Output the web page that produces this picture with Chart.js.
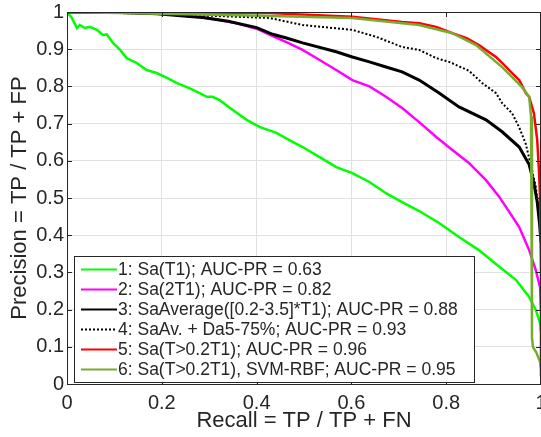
<!DOCTYPE html>
<html>
<head>
<meta charset="utf-8">
<script src="https://cdn.jsdelivr.net/npm/chart.js@4"></script>
<style>
  html, body { margin: 0; padding: 0; background: #fff; overflow: hidden; }
</style>
</head>
<body>
<canvas id="prChart" width="541" height="437"></canvas>
<script>
// values
const recall1 = [0, 0.01, 0.021, 0.027, 0.038, 0.048, 0.063, 0.076, 0.084, 0.097, 0.112, 0.126, 0.147, 0.168, 0.189, 0.211, 0.232, 0.253, 0.28, 0.295, 0.307, 0.322, 0.349, 0.379, 0.406, 0.442, 0.47, 0.497, 0.533, 0.568, 0.602, 0.638, 0.673, 0.707, 0.743, 0.785, 0.827, 0.869, 0.912, 0.947, 0.975, 0.989, 0.998, 1.0];
const precision1 = [1, 0.985, 0.957, 0.965, 0.957, 0.96, 0.952, 0.938, 0.94, 0.917, 0.898, 0.876, 0.863, 0.844, 0.836, 0.823, 0.809, 0.798, 0.782, 0.772, 0.772, 0.763, 0.737, 0.71, 0.691, 0.675, 0.655, 0.637, 0.61, 0.583, 0.567, 0.543, 0.513, 0.489, 0.465, 0.433, 0.395, 0.36, 0.315, 0.28, 0.234, 0.199, 0.164, 0.14];

const recall2 = [0, 0.1, 0.2, 0.25, 0.3, 0.35, 0.4, 0.434, 0.463, 0.497, 0.533, 0.568, 0.602, 0.638, 0.673, 0.707, 0.743, 0.779, 0.813, 0.848, 0.863, 0.884, 0.912, 0.926, 0.954, 0.975, 0.989, 0.998, 1.0];
const precision2 = [1, 0.999, 0.995, 0.99, 0.983, 0.972, 0.955, 0.935, 0.919, 0.898, 0.871, 0.844, 0.817, 0.8, 0.772, 0.742, 0.704, 0.664, 0.629, 0.594, 0.575, 0.548, 0.503, 0.476, 0.422, 0.36, 0.306, 0.26, 0.2];

const recall3 = [0, 0.1, 0.19, 0.24, 0.286, 0.34, 0.4, 0.434, 0.463, 0.497, 0.568, 0.602, 0.638, 0.673, 0.707, 0.743, 0.785, 0.827, 0.884, 0.918, 0.954, 0.975, 0.985, 0.992, 0.997, 1.0];
const precision3 = [1, 0.999, 0.995, 0.99, 0.985, 0.975, 0.958, 0.94, 0.93, 0.917, 0.893, 0.879, 0.866, 0.852, 0.839, 0.817, 0.782, 0.745, 0.71, 0.678, 0.637, 0.59, 0.54, 0.49, 0.43, 0.38];

const recall4 = [0, 0.2, 0.3, 0.427, 0.497, 0.602, 0.653, 0.707, 0.743, 0.779, 0.806, 0.848, 0.876, 0.905, 0.918, 0.939, 0.954, 0.968, 0.981, 0.989, 0.995, 1.0];
const precision4 = [1, 0.995, 0.99, 0.984, 0.965, 0.952, 0.933, 0.906, 0.898, 0.876, 0.866, 0.842, 0.809, 0.782, 0.755, 0.728, 0.69, 0.645, 0.575, 0.53, 0.47, 0.4];

const recall5 = [0, 0.2, 0.427, 0.602, 0.707, 0.743, 0.779, 0.813, 0.843, 0.869, 0.905, 0.918, 0.939, 0.954, 0.968, 0.975, 0.985, 0.992, 0.996, 0.998, 1.0, 1.0];
const precision5 = [1, 0.999, 0.997, 0.987, 0.973, 0.97, 0.96, 0.943, 0.93, 0.911, 0.879, 0.863, 0.836, 0.817, 0.782, 0.772, 0.728, 0.656, 0.567, 0.5, 0.3, 0.02];

const recall6 = [0, 0.196, 0.41, 0.602, 0.743, 0.813, 0.863, 0.918, 0.96, 0.975, 0.979, 0.981, 0.981, 0.981, 0.983, 0.99, 0.998, 1.0];
const precision6 = [1, 0.995, 0.99, 0.984, 0.965, 0.943, 0.911, 0.852, 0.798, 0.772, 0.72, 0.675, 0.44, 0.125, 0.1, 0.085, 0.06, 0.04];

const seriesLabels = [
  '1: Sa(T1); AUC-PR = 0.63',
  '2: Sa(2T1); AUC-PR = 0.82',
  '3: SaAverage([0.2-3.5]*T1); AUC-PR = 0.88',
  '4: SaAv. + Da5-75%; AUC-PR = 0.93',
  '5: Sa(T>0.2T1); AUC-PR = 0.96',
  '6: Sa(T>0.2T1), SVM-RBF; AUC-PR = 0.95'
];
const seriesColors = ['#00ff00', '#ff00ff', '#000000', '#000000', '#ff0000', '#77ac30'];
const seriesWidths = [2.5, 2.5, 3, 2, 2.5, 2.5];
const seriesDash = [[], [], [], [2, 2], [], []];

const xTitle = 'Recall = TP / TP + FN';
const yTitle = 'Precision = TP / TP + FP';

const fontFamily = '"Liberation Sans", Arial, Helvetica, sans-serif';
const textColor = '#262626';

const recalls = [recall1, recall2, recall3, recall4, recall5, recall6];
const precisions = [precision1, precision2, precision3, precision4, precision5, precision6];

const datasets = recalls.map((r, i) => ({
  label: seriesLabels[i],
  data: r.map((x, j) => ({ x: x, y: precisions[i][j] })),
  showLine: true,
  borderColor: seriesColors[i],
  backgroundColor: seriesColors[i],
  borderWidth: seriesWidths[i],
  borderDash: seriesDash[i],
  pointRadius: 0,
  tension: 0,
  fill: false,
  order: 6 - i
}));

// box round the axes with inward ticks, like matlab
const axesBox = {
  id: 'axesBox',
  afterDatasetsDraw(chart) {
    const { ctx, chartArea: a, scales } = chart;
    ctx.save();
    ctx.strokeStyle = textColor;
    ctx.lineWidth = 1;
    ctx.beginPath();
    ctx.moveTo(a.left + 0.5, a.bottom + 0.5);
    ctx.lineTo(a.left + 0.5, a.top + 0.5);
    ctx.lineTo(a.right - 0.5, a.top + 0.5);
    ctx.lineTo(a.right - 0.5, a.bottom + 0.5);
    ctx.lineTo(a.left + 0.5, a.bottom + 0.5);
    scales.x.ticks.forEach(t => {
      const px = Math.round(scales.x.getPixelForValue(t.value)) + 0.5;
      ctx.moveTo(px, a.bottom); ctx.lineTo(px, a.bottom - 5);
      ctx.moveTo(px, a.top); ctx.lineTo(px, a.top + 5);
    });
    scales.y.ticks.forEach(t => {
      const py = Math.round(scales.y.getPixelForValue(t.value)) + 0.5;
      ctx.moveTo(a.left, py); ctx.lineTo(a.left + 5, py);
      ctx.moveTo(a.right, py); ctx.lineTo(a.right - 5, py);
    });
    ctx.stroke();
    ctx.restore();
  }
};

// legend box inside the lower left of the plot
const legendBox = {
  id: 'legendBox',
  afterDraw(chart) {
    const { ctx, chartArea: a } = chart;
    const w = 400, h = 126;
    const x0 = a.left + 7, y0 = a.bottom - 2 - h;
    ctx.save();
    ctx.fillStyle = '#ffffff';
    ctx.fillRect(x0, y0, w, h);
    ctx.strokeStyle = '#262626';
    ctx.lineWidth = 1;
    ctx.strokeRect(x0 + 0.5, y0 + 0.5, w, h);
    ctx.font = '17.5px ' + fontFamily;
    ctx.textBaseline = 'middle';
    ctx.fillStyle = textColor;
    seriesLabels.forEach((lab, i) => {
      const cy = y0 + 13.5 + i * 20;
      ctx.beginPath();
      ctx.strokeStyle = seriesColors[i];
      ctx.lineWidth = 2;
      ctx.setLineDash(seriesDash[i]);
      ctx.moveTo(x0 + 7, cy);
      ctx.lineTo(x0 + 43, cy);
      ctx.stroke();
      ctx.setLineDash([]);
      ctx.fillText(lab, x0 + 44, cy + 1);
    });
    ctx.restore();
  }
};

const fmt = v => String(Math.round(v * 10) / 10);

const ctx = document.getElementById('prChart').getContext('2d');
const chart = new Chart(ctx, {
  type: 'scatter',
  data: { datasets: datasets },
  options: {
    responsive: false,
    animation: false,
    devicePixelRatio: 1,
    layout: { padding: { top: 12, right: 0, left: 0, bottom: 0 } },
    plugins: {
      legend: { display: false },
      tooltip: { enabled: false }
    },
    scales: {
      x: {
        type: 'linear',
        min: 0,
        max: 1,
        ticks: {
          stepSize: 0.2,
          color: textColor,
          font: { family: fontFamily, size: 20 },
          padding: 7,
          maxRotation: 0,
          callback: v => fmt(v)
        },
        grid: { color: '#e0e0e0', drawTicks: false },
        border: { display: false },
        title: {
          display: true,
          text: xTitle,
          color: textColor,
          font: { family: fontFamily, size: 22 },
          padding: { top: 0, bottom: 3 }
        },
        afterFit(scale) {
          scale.height = 53;
          scale.paddingLeft = 0;
          scale.paddingRight = 0;
        }
      },
      y: {
        type: 'linear',
        min: 0,
        max: 1,
        ticks: {
          stepSize: 0.1,
          color: textColor,
          font: { family: fontFamily, size: 20 },
          padding: 3,
          callback: v => fmt(v)
        },
        grid: { color: '#e0e0e0', drawTicks: false },
        border: { display: false },
        title: {
          display: true,
          text: yTitle,
          color: textColor,
          font: { family: fontFamily, size: 22 },
          padding: { top: 7, bottom: 0 }
        },
        afterFit(scale) {
          scale.width = 67;
          scale.paddingTop = 0;
          scale.paddingBottom = 0;
        }
      }
    }
  },
  plugins: [axesBox, legendBox]
});
</script>
</body>
</html>
